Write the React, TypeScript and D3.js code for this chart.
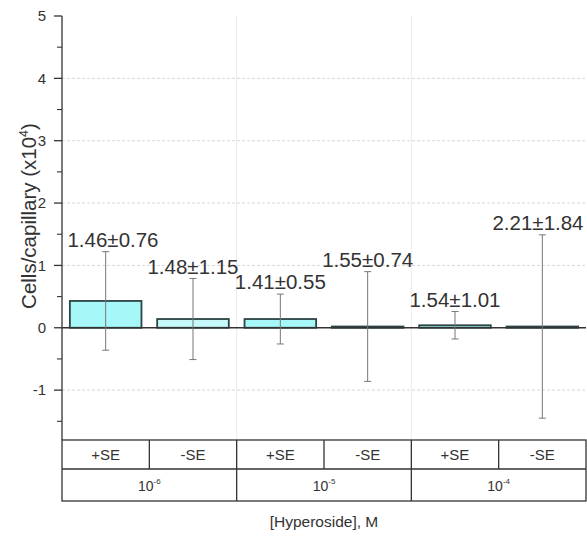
import React from "react";
import * as d3 from "d3";

// Groups and sub-categories along the x axis
const groups = ["-6", "-5", "-4"];
const subLabels = ["+SE", "-SE"];
const categories = ["g1+", "g1-", "g2+", "g2-", "g3+", "g3-"];

// Bar heights and error half-lengths (x10^4 cells/capillary)
const barValues = [0.43, 0.14, 0.14, 0.02, 0.04, 0.02];
const errValues = [0.79, 0.65, 0.40, 0.88, 0.22, 1.47];

// Annotated mean ± SE
const labelMeans = [1.46, 1.48, 1.41, 1.55, 1.54, 2.21];
const labelSEs = [0.76, 1.15, 0.55, 0.74, 1.01, 1.84];

const yTicks = [-1, 0, 1, 2, 3, 4, 5];
const yMinorTicks = [-1.5, -0.5, 0.5, 1.5, 2.5, 3.5, 4.5];
const gridValues = [-1, 1, 2, 3, 4];

const W = 587;
const H = 537;
const left = 62;
const right = 586;
const top = 16;
const plotBottom = 440;
const rowMid = 469;
const tableBottom = 501;

const FONT = "'Liberation Sans', Arial, Helvetica, sans-serif";

export default function App() {
  const y = d3.scaleLinear().domain([-1.8, 5]).range([plotBottom, top]);
  const x = d3
    .scaleBand<string>()
    .domain(categories)
    .range([left, right])
    .paddingInner(0.18)
    .paddingOuter(0.09);
  const step = x.step();
  const catStart = (i: number) => left + i * step;
  const groupX = d3.scaleBand<string>().domain(groups).range([left, right]);

  return (
    <svg
      width={W}
      height={H}
      style={{ position: "absolute", left: 0, top: 0, background: "#fff" }}
      fontFamily={FONT}
    >
      {/* grid */}
      {gridValues.map((v) => (
        <line
          key={"gy" + v}
          x1={left}
          x2={right}
          y1={y(v)}
          y2={y(v)}
          stroke="#d8d8d8"
          strokeWidth={1}
          strokeDasharray="3,2"
        />
      ))}
      {groups.slice(1).map((g) => (
        <line
          key={"gx" + g}
          x1={groupX(g)!}
          x2={groupX(g)!}
          y1={top}
          y2={plotBottom}
          stroke="#ececec"
          strokeWidth={1}
        />
      ))}

      {/* bars */}
      {categories.map((c, i) => {
        const y0 = y(0);
        const y1 = y(barValues[i]);
        return (
          <rect
            key={"b" + c}
            x={x(c)!}
            y={Math.min(y0, y1)}
            width={x.bandwidth()}
            height={Math.abs(y0 - y1)}
            fill={i % 2 === 0 ? "#a6f7f7" : "#c6f9f9"}
            stroke="#2b4444"
            strokeWidth={1.8}
          />
        );
      })}

      {/* zero line */}
      <line x1={left} x2={right} y1={y(0)} y2={y(0)} stroke="#333" strokeWidth={1.6} />

      {/* error bars */}
      {categories.map((c, i) => {
        const cx = x(c)! + x.bandwidth() / 2;
        const hi = y(barValues[i] + errValues[i]);
        const lo = y(barValues[i] - errValues[i]);
        return (
          <g key={"e" + c} stroke="#777" strokeWidth={1}>
            <line x1={cx} x2={cx} y1={hi} y2={lo} />
            <line x1={cx - 3.5} x2={cx + 3.5} y1={hi} y2={hi} />
            <line x1={cx - 3.5} x2={cx + 3.5} y1={lo} y2={lo} />
          </g>
        );
      })}

      {/* value annotations */}
      {categories.map((c, i) => {
        const cx = x(c)! + x.bandwidth() / 2;
        const hi = y(barValues[i] + errValues[i]);
        const halfW = 47;
        const tx = Math.max(left + 4 + halfW, Math.min(W - 2 - halfW, cx));
        return (
          <text
            key={"t" + c}
            x={tx}
            y={hi - 5}
            textAnchor="middle"
            fontSize={20.5}
            fill="#333"
          >
            {labelMeans[i].toFixed(2)}±{labelSEs[i].toFixed(2)}
          </text>
        );
      })}

      {/* y axis */}
      <line x1={left} x2={left} y1={top} y2={plotBottom} stroke="#333" strokeWidth={1.3} />
      {yTicks.map((t) => (
        <g key={"yt" + t}>
          <line x1={left - 8} x2={left} y1={y(t)} y2={y(t)} stroke="#333" strokeWidth={1.3} />
          <text
            x={left - 16}
            y={y(t)}
            dy="0.35em"
            textAnchor="end"
            fontSize={15}
            fill="#333"
          >
            {t}
          </text>
        </g>
      ))}
      {yMinorTicks.map((t) => (
        <line
          key={"ym" + t}
          x1={left - 5}
          x2={left}
          y1={y(t)}
          y2={y(t)}
          stroke="#333"
          strokeWidth={1.1}
        />
      ))}
      <text
        transform={`translate(36, 216) rotate(-90)`}
        textAnchor="middle"
        fontSize={20.5}
        fill="#333"
      >
        Cells/capillary (x10
        <tspan dy={-8} fontSize={12.5}>
          4
        </tspan>
        <tspan dy={8}>)</tspan>
      </text>

      {/* category table */}
      <g stroke="#333" strokeWidth={1.3} fill="none">
        <rect x={left} y={plotBottom} width={right - left} height={tableBottom - plotBottom} />
        <line x1={left} x2={right} y1={rowMid} y2={rowMid} />
        {categories.slice(1).map((c, i) => (
          <line
            key={"cd" + c}
            x1={catStart(i + 1)}
            x2={catStart(i + 1)}
            y1={plotBottom}
            y2={(i + 1) % 2 === 0 ? tableBottom : rowMid}
          />
        ))}
      </g>
      {categories.map((c, i) => (
        <text
          key={"sl" + c}
          x={catStart(i) + step / 2}
          y={(plotBottom + rowMid) / 2}
          dy="0.35em"
          textAnchor="middle"
          fontSize={15}
          fill="#333"
        >
          {subLabels[i % 2]}
        </text>
      ))}
      {groups.map((g) => (
        <text
          key={"gl" + g}
          x={groupX(g)! + groupX.bandwidth() / 2}
          y={(rowMid + tableBottom) / 2 + 6}
          textAnchor="middle"
          fontSize={14}
          fill="#333"
        >
          10
          <tspan dy={-7} fontSize={8}>
            {g}
          </tspan>
        </text>
      ))}
      <text x={(left + right) / 2} y={527} textAnchor="middle" fontSize={15.5} fill="#333">
        [Hyperoside], M
      </text>
    </svg>
  );
}
